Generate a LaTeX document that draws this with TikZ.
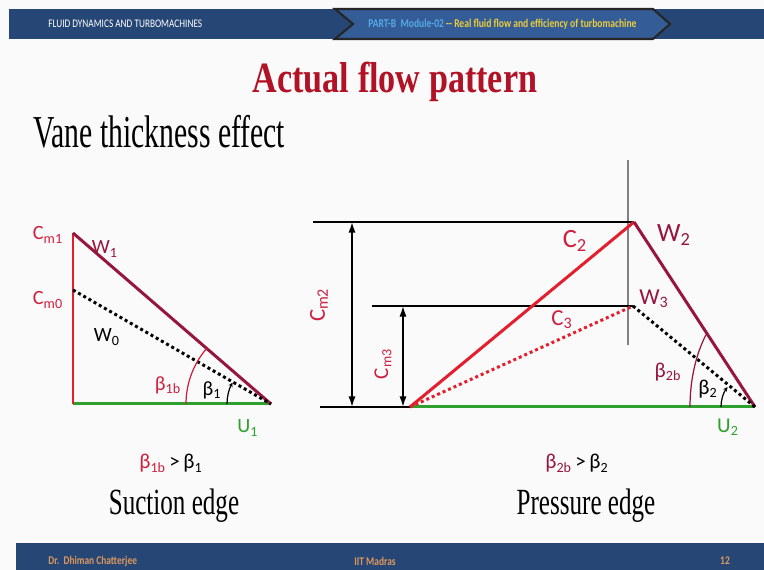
\documentclass[tikz,border=0pt]{standalone}
\usepackage{xcolor}
\usepackage{fontspec}
\setmainfont{Liberation Serif}
\newfontfamily\slidefont[FakeStretch=0.68]{Liberation Serif}
\newfontfamily\vanefont[FakeStretch=0.65]{Liberation Serif}
\newfontfamily\titlefont[FakeStretch=0.79]{Liberation Serif}
\newfontfamily\barfont[FakeStretch=0.8]{Carlito}
\newfontfamily\labfont{Carlito}
\usepackage{tikz}
\usetikzlibrary{positioning}
\usetikzlibrary{calc,arrows.meta}

\definecolor{hdrblue}{RGB}{38,70,118}
\definecolor{chevblue}{RGB}{52,92,150}
\definecolor{ptcyan}{RGB}{85,170,230}
\definecolor{ptyellow}{RGB}{235,205,60}
\definecolor{ftorange}{RGB}{222,152,92}
\definecolor{ttlred}{RGB}{178,18,38}
\definecolor{cred}{RGB}{228,30,45}
\definecolor{labred}{RGB}{208,30,62}
\definecolor{wmaroon}{RGB}{150,22,62}
\definecolor{ugreen}{RGB}{45,160,45}
\definecolor{bgwhite}{RGB}{249,250,249}

\begin{document}
\begin{tikzpicture}[x=0.02cm,y=0.02cm,
  barlab/.style={anchor=west,inner sep=0pt,font=\barfont\fontsize{6.6}{8}\selectfont},
  footlab/.style={text=ftorange,inner sep=0pt,font=\barfont\bfseries\fontsize{6.7}{8}\selectfont},
  lab/.style={inner sep=0pt,font=\labfont\fontsize{11.5}{13}\selectfont},
  midlab/.style={inner sep=0pt,font=\labfont\fontsize{13}{15}\selectfont},
  biglab/.style={inner sep=0pt,font=\labfont\fontsize{15}{17}\selectfont},
  rellab/.style={anchor=base,inner sep=0pt,font=\labfont\fontsize{12}{14}\selectfont},
  edgelab/.style={anchor=base,inner sep=0pt,font=\slidefont\fontsize{21}{24}\selectfont},
  cline/.style={cred,line width=1.7pt},
  wline/.style={wmaroon,line width=1.7pt},
  uline/.style={ugreen,line width=1.7pt},
  dotline/.style={line width=1.7pt,dash pattern=on 1.7pt off 1.7pt},
  hline/.style={black,line width=1.1pt},
  dimarrow/.style={{Latex[length=6pt,width=4pt]}-{Latex[length=6pt,width=4pt]},line width=0.9pt},
  smallarc/.style={line width=0.7pt,-{Stealth[length=2.5pt,width=2.5pt]}}]
\fill[bgwhite] (0,0) rectangle (764,570);
\useasboundingbox (0,0) rectangle (764,570);

\fill[hdrblue] (9,531) rectangle (764,561);
\draw[fill=chevblue,draw=black!85,line width=1.2pt] (335,561) -- (353,546) -- (335,531)
  -- (653,531) -- (670,546) -- (653,561) -- cycle;
\node[barlab,text=white] (course) at (48,546) {FLUID DYNAMICS AND TURBOMACHINES};
\node[barlab,font=\barfont\bfseries\fontsize{6.8}{8}\selectfont] (module) at (368,546)
  {\textcolor{ptcyan}{PART-B\ \ Module-02} \textcolor{ptyellow}{-- Real fluid flow and efficiency of turbomachine}};

\fill[hdrblue] (16,0) rectangle (764,27);
\node[footlab,anchor=west] (author) at (48,9) {Dr.\ \ Dhiman Chatterjee};
\node[footlab] (inst) at (375,9) {IIT Madras};
\node[footlab] (page) at (725,9) {12};

\node[anchor=base,inner sep=0pt,text=ttlred,font=\titlefont\bfseries\fontsize{24.6}{28}\selectfont] (title) at (395,477) {Actual flow pattern};
\node[anchor=base west,inner sep=0pt,font=\vanefont\fontsize{26}{30}\selectfont] (vane) at (33,422) {Vane thickness effect};

\coordinate (top1) at (73,337);
\coordinate (mid1) at (73,280);
\coordinate (org1) at (73,166);
\coordinate (rt1) at (271,166);
\draw[uline] (org1) -- (rt1);
\draw[cline] (org1) -- (top1);
\draw[wline] (top1) -- (rt1);
\draw[dotline] (mid1) -- (rt1);
\draw[labred,line width=0.7pt] (rt1) ++(180:85) arc[start angle=180,end angle=139,radius=85];
\draw[smallarc] (rt1) ++(180:44) arc[start angle=180,end angle=151,radius=44];

\node[lab,text=labred] (cmone) at (48,335) {C\textsubscript{m1}};
\node[lab,text=wmaroon] (wone) at (105,321) {W\textsubscript{1}};
\node[lab,text=labred] (cmzero) at (48,270) {C\textsubscript{m0}};
\node[lab] (wzero) at (107,233) {W\textsubscript{0}};
\node[lab,text=labred] (bonb) at (168,185) {β\textsubscript{1b}};
\node[lab] (bone) at (212,180) {β\textsubscript{1}};
\node[lab,text=ugreen] (uone) at (248,142) {U\textsubscript{1}};
\node[rellab] (relone) at (171,101) {\textcolor{labred}{β\textsubscript{1b}}\,>\,β\textsubscript{1}};
\node[edgelab] (suction) at (174,55) {Suction edge};

\coordinate (vtop) at (628,410);
\coordinate (vbot) at (628,225);
\coordinate (ltop2) at (313,348);
\coordinate (tip2) at (634,348);
\coordinate (lmid2) at (372,264);
\coordinate (tip3) at (633,264);
\coordinate (lbot2) at (320,163);
\coordinate (org2) at (410,163);
\coordinate (rt2) at (755,163);
\coordinate (cmtwotop) at (352,348);
\coordinate (cmtwobot) at (352,163);
\coordinate (cmthreetop) at (403,264);
\coordinate (cmthreebot) at (403,163);
\draw[gray,line width=0.6pt] (vtop) -- (vbot);
\draw[hline] (ltop2) -- (tip2);
\draw[hline] (lmid2) -- (tip3);
\draw[hline] (lbot2) -- (org2);
\draw[dimarrow] (cmtwobot) -- (cmtwotop);
\draw[dimarrow] (cmthreebot) -- (cmthreetop);
\draw[uline] (org2) -- (rt2);
\draw[cline] (org2) -- (tip2);
\draw[dotline,cred] (org2) -- (tip3);
\draw[wline] (tip2) -- (rt2);
\draw[dotline] (tip3) -- (rt2);
\draw[wmaroon,line width=0.7pt] (rt2) ++(180:65) arc[start angle=180,end angle=139,x radius=65,y radius=110];
\draw[smallarc] (rt2) ++(180:34) arc[start angle=180,end angle=144,radius=34];

\node[midlab,text=labred,rotate=90] (cmtwo) at (319,265) {C\textsubscript{m2}};
\node[lab,text=labred,rotate=90,font=\labfont\fontsize{12}{14}\selectfont] (cmthree) at (383,206) {C\textsubscript{m3}};
\node[biglab,text=labred] (ctwo) at (575,329) {C\textsubscript{2}};
\node[biglab,text=wmaroon] (wtwo) at (674,335) {W\textsubscript{2}};
\node[midlab,text=wmaroon] (wthree) at (654,271) {W\textsubscript{3}};
\node[midlab,text=labred] (cthree) at (562,250) {C\textsubscript{3}};
\node[lab,text=wmaroon,font=\labfont\fontsize{12}{14}\selectfont] (btwob) at (668,198) {β\textsubscript{2b}};
\node[lab,font=\labfont\fontsize{12}{14}\selectfont] (btwo) at (708,181) {β\textsubscript{2}};
\node[lab,text=ugreen,font=\labfont\fontsize{12}{14}\selectfont] (utwo) at (728,143) {U\textsubscript{2}};
\node[rellab] (reltwo) at (577,101) {\textcolor{wmaroon}{β\textsubscript{2b}}\,>\,β\textsubscript{2}};
\node[edgelab] (pressure) at (586,55) {Pressure edge};
\end{tikzpicture}
\end{document}
